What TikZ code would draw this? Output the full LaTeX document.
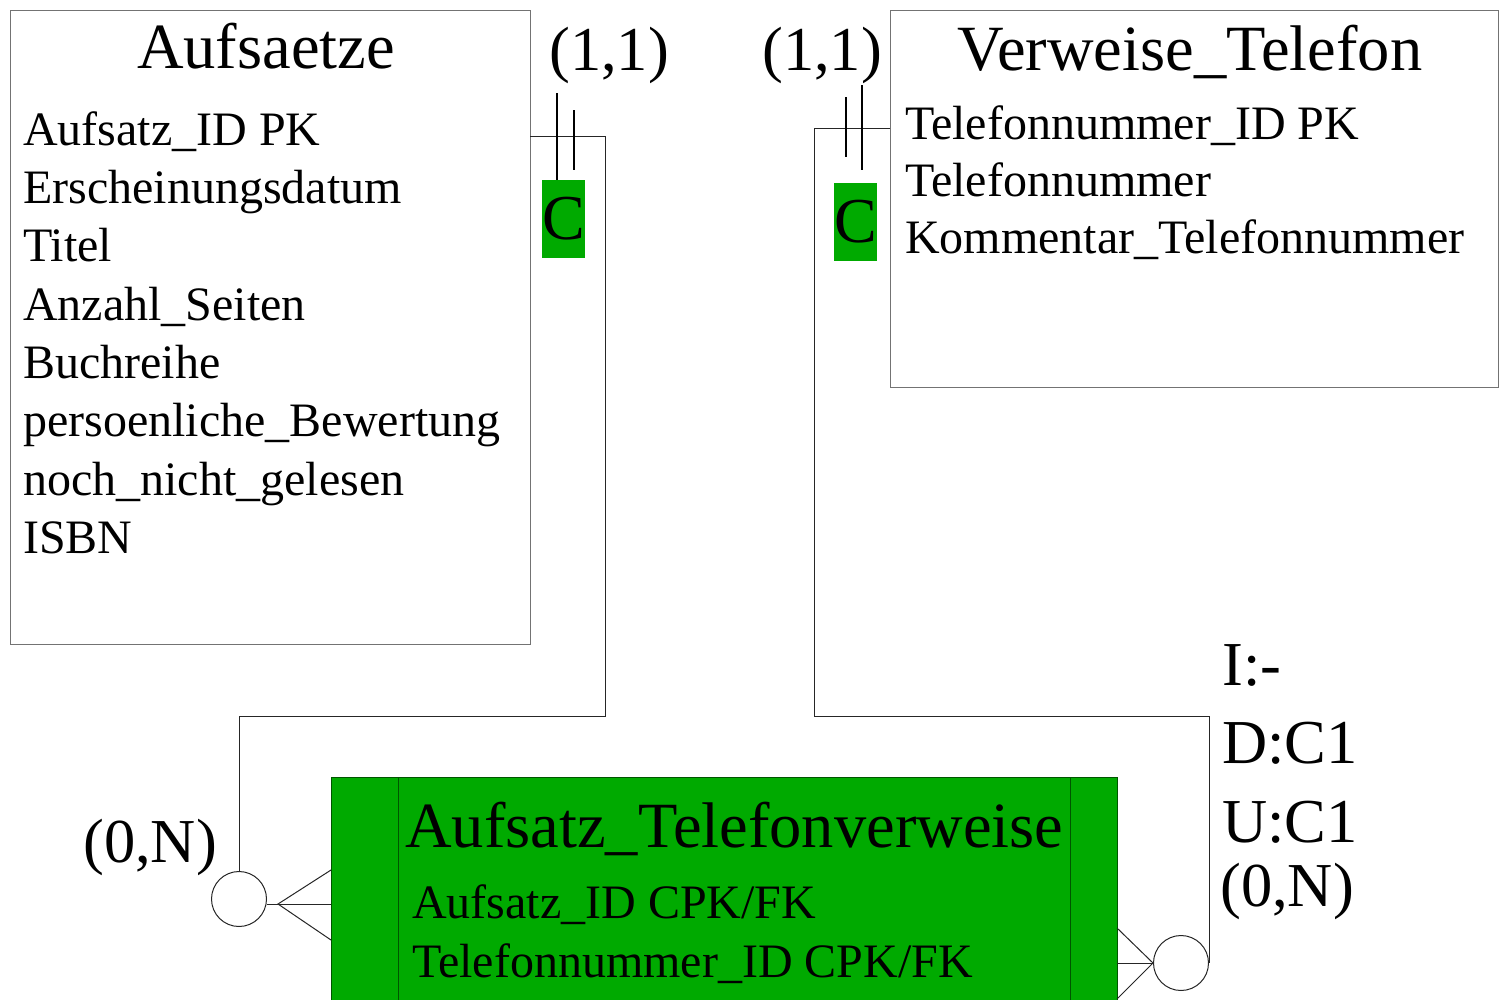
\documentclass[tikz,border=0pt]{standalone}
\usepackage{fontspec}
\setmainfont{Liberation Serif}
\definecolor{erdgreen}{RGB}{0,170,0}
\definecolor{erdedge}{RGB}{0,85,0}
\begin{document}
\begin{tikzpicture}[x=1pt,y=-1pt,
  entity/.style={draw=black!55, line width=1.2pt, anchor=north west, inner sep=0pt},
  title/.style={font=\fontsize{64.5}{70}\selectfont, anchor=base, inner sep=0pt},
  attr/.style={font=\fontsize{48}{56}\selectfont, anchor=base west, inner sep=0pt},
  card/.style={font=\fontsize{62.5}{70}\selectfont, anchor=base west, inner sep=0pt},
  link/.style={draw=black!85, line width=1pt},
  bar/.style={draw=black, line width=1.6pt},
  cbox/.style={fill=erdgreen, minimum width=43pt, minimum height=78pt, inner sep=0pt,
               font=\fontsize{64}{70}\selectfont},
  opt/.style={circle, draw=black!85, minimum size=55pt, inner sep=0pt, line width=1pt}]
\useasboundingbox (0,0) rectangle (1503,999);

% entity Aufsaetze
\node[entity, minimum width=520pt, minimum height=634pt] (aufs) at (10,10) {};
\node[title] (aufsT) at (266,68) {Aufsaetze};
\node[attr] (a1) at (23,145)   {Aufsatz\_ID PK};
\node[attr] (a2) at (23,203.3) {Erscheinungsdatum};
\node[attr] (a3) at (23,261.7) {Titel};
\node[attr] (a4) at (23,320)   {Anzahl\_Seiten};
\node[attr] (a5) at (23,378.3) {Buchreihe};
\node[attr] (a6) at (23,436.7) {persoenliche\_Bewertung};
\node[attr] (a7) at (23,495)   {noch\_nicht\_gelesen};
\node[attr] (a8) at (23,553.3) {ISBN};

% entity Verweise_Telefon
\node[entity, minimum width=608pt, minimum height=377pt] (vt) at (890,10) {};
\node[title] (vtT) at (1190,70) {Verweise\_Telefon};
\node[attr] (v1) at (905,139.5) {Telefonnummer\_ID PK};
\node[attr] (v2) at (905,196.5) {Telefonnummer};
\node[attr] (v3) at (905,253.5) {Kommentar\_Telefonnummer};

% associative entity
\node[draw=erdedge, fill=erdgreen, line width=1.2pt, anchor=north west,
      minimum width=786pt, minimum height=240pt, inner sep=0pt] (rel) at (331,777) {};
\draw[erdedge, line width=1pt] ([xshift=67pt]rel.north west) -- ([xshift=67pt]rel.south west);
\draw[erdedge, line width=1pt] ([xshift=-48pt]rel.north east) -- ([xshift=-48pt]rel.south east);
\node[title, anchor=base west] (relT) at (405,847) {Aufsatz\_Telefonverweise};
\node[attr] (r1) at (412,918) {Aufsatz\_ID CPK/FK};
\node[attr] (r2) at (412,977) {Telefonnummer\_ID CPK/FK};

% optionality circles
\node[opt] (c1) at (239,899) {};
\node[opt] (c2) at (1181,963) {};

% relationship Aufsaetze -- Aufsatz_Telefonverweise
\coordinate (aufsR) at (530,136);
\draw[link] (aufsR) -- (605,136) -- (605,716) -| (c1.north);
\node[cbox] (cl) at (563.5,219) {C};
\draw[bar] (557,93) -- (cl.north -| 557,0);
\draw[bar] (574,110) -- (574,170);
\coordinate (tip1) at (278,904);
\coordinate (f1a) at (331,870);
\coordinate (f1b) at (331,904);
\coordinate (f1c) at (331,940);
\draw[link] (c1.east |- tip1) -- (tip1);
\draw[link] (f1a) -- (tip1) -- (f1c);
\draw[link] (tip1) -- (f1b);

% relationship Verweise_Telefon -- Aufsatz_Telefonverweise
\coordinate (vtL) at (890,128);
\draw[link] (vtL) -- (814,128) -- (814,716) -| (c2.east);
\node[cbox] (cr) at (855.5,221.5) {C};
\draw[bar] (846,97) -- (846,157);
\draw[bar] (862,85) -- (862,170);
\coordinate (f2a) at (1117,928);
\coordinate (f2b) at (1117,963);
\coordinate (f2c) at (1117,999);
\draw[link] (f2a) -- (c2.west) -- (f2c);
\draw[link] (f2b) -- (c2.west);

% cardinalities and integrity rules
\node[card] (k1) at (549,70) {(1,1)};
\node[card] (k2) at (762,70) {(1,1)};
\node[card] (k3) at (83,862) {(0,N)};
\node[card] (ri) at (1222,685) {I:-};
\node[card] (rd) at (1222,763) {D:C1};
\node[card] (ru) at (1222,842) {U:C1};
\node[card] (k4) at (1220,906) {(0,N)};
\end{tikzpicture}
\end{document}
